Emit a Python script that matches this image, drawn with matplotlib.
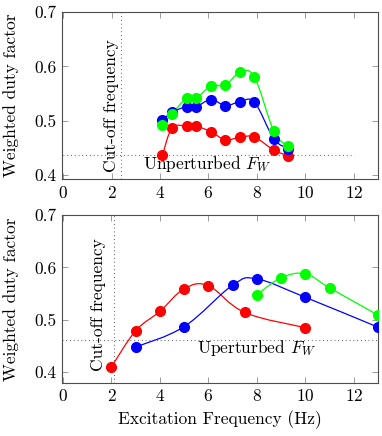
import matplotlib
matplotlib.use("Agg")
import matplotlib.pyplot as plt
from matplotlib.path import Path
from matplotlib.patches import PathPatch
import numpy as np

plt.rcParams['font.family'] = ['cmr10', 'DejaVu Serif']
plt.rcParams['mathtext.fontset'] = 'cm'
plt.rcParams['axes.formatter.use_mathtext'] = True
plt.rcParams['font.size'] = 12.5

# top panel
top_x = [4.1, 4.5, 5.1, 5.5, 6.1, 6.7, 7.3, 7.9, 8.7, 9.3]
top_red = [0.437, 0.487, 0.490, 0.490, 0.480, 0.465, 0.470, 0.470, 0.446, 0.436]
top_blue = [0.501, 0.516, 0.526, 0.526, 0.539, 0.528, 0.535, 0.534, 0.467, 0.449]
top_green = [0.493, 0.513, 0.542, 0.542, 0.564, 0.566, 0.589, 0.580, 0.481, 0.453]
top_cutoff = 2.4
top_unpert = 0.437

# bottom panel
bot_red_x = [2, 3, 4, 5, 6, 7.5, 10]
bot_red = [0.410, 0.479, 0.516, 0.559, 0.565, 0.514, 0.485]
bot_blue_x = [3, 5, 7, 8, 10, 13]
bot_blue = [0.448, 0.487, 0.566, 0.578, 0.543, 0.486]
bot_green_x = [8, 9, 10, 11, 13]
bot_green = [0.548, 0.580, 0.588, 0.561, 0.509]
bot_cutoff = 2.1
bot_unpert = 0.462

xticks = [0, 2, 4, 6, 8, 10, 12]
yticks = [0.4, 0.5, 0.6, 0.7]

RED = '#ff0000'
BLUE = '#0000ff'
GREEN = '#00ff00'
DOTS = dict(color='0.35', lw=0.8, ls=(0, (0.8, 2.6)))


def smooth_line(ax, xs, ys, color, s=0.18):
    pts = np.column_stack([xs, ys])
    n = len(pts)
    verts = [pts[0]]
    codes = [Path.MOVETO]
    for i in range(n - 1):
        p0 = pts[max(i - 1, 0)]
        p1 = pts[i]
        p2 = pts[i + 1]
        p3 = pts[min(i + 2, n - 1)]
        c1 = p1 + (p2 - p0) * s
        c2 = p2 - (p3 - p1) * s
        verts += [c1, c2, p2]
        codes += [Path.CURVE4] * 3
    ax.add_patch(PathPatch(Path(verts, codes), facecolor='none',
                           edgecolor=color, lw=0.9, zorder=3))
    ax.plot(xs, ys, 'o', color=color, ms=7, zorder=4)


def style(ax, ylo):
    ax.set_xlim(-0.05, 13)
    ax.set_ylim(ylo, 0.7)
    ax.set_xticks(xticks)
    ax.set_yticks(yticks)
    ax.set_yticklabels([f'{v:.1f}' for v in yticks])
    ax.tick_params(direction='in', top=True, right=True, length=4,
                   width=0.6, color='0.55', pad=4)
    for sp in ax.spines.values():
        sp.set_color('0.3')
        sp.set_linewidth(0.8)
    ax.set_ylabel('Weighted duty factor')
    ax.yaxis.set_label_coords(-0.135, 0.5)


fig = plt.figure(figsize=(3.82, 4.36), dpi=100)
ax1 = fig.add_axes([0.1623, 0.5894, 0.8272, 0.3831])
ax2 = fig.add_axes([0.1615, 0.1222, 0.8280, 0.3847])

# top
style(ax1, 0.393)
ax1.axvline(top_cutoff, **DOTS)
ax1.plot([0, 12], [top_unpert, top_unpert], **DOTS)
smooth_line(ax1, top_x, top_red, RED)
smooth_line(ax1, top_x, top_blue, BLUE)
smooth_line(ax1, top_x, top_green, GREEN)
ax1.text(1.99, 0.527, 'Cut-off frequency', rotation=90, ha='center', va='center')
ax1.text(5.95, 0.420, 'Unperturbed $F_W$', ha='center', va='center')

# bottom
style(ax2, 0.38)
ax2.axvline(bot_cutoff, **DOTS)
ax2.axhline(bot_unpert, **DOTS)
smooth_line(ax2, bot_red_x, bot_red, RED)
smooth_line(ax2, bot_blue_x, bot_blue, BLUE)
smooth_line(ax2, bot_green_x, bot_green, GREEN)
ax2.text(1.47, 0.529, 'Cut-off frequency', rotation=90, ha='center', va='center')
ax2.text(8.0, 0.447, 'Uperturbed $F_W$', ha='center', va='center')
ax2.set_xlabel('Excitation Frequency (Hz)')

fig.savefig('out.png', dpi=100)
